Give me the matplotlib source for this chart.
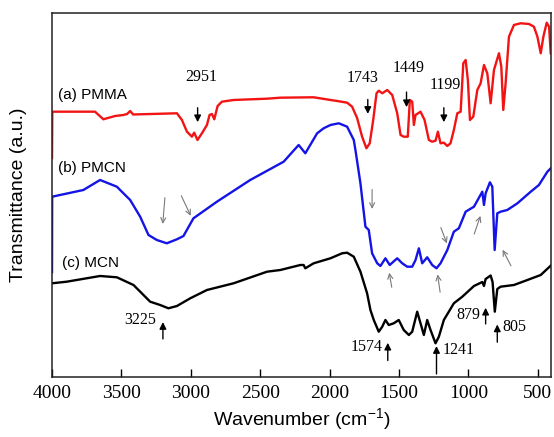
import matplotlib
matplotlib.use("Agg")
import matplotlib.pyplot as plt

# FTIR spectra, transmittance in arbitrary units (offset traces)
pmma_wn = [4000, 3998, 3690, 3630, 3545, 3486, 3459, 3437, 3416, 3100, 3064, 3028, 2992, 2976, 2952, 2920,
           2884, 2865, 2848, 2831, 2807, 2776, 2692, 2451, 2355, 2115, 1994, 1946, 1874, 1838, 1802, 1766,
           1735, 1711, 1686, 1662, 1646, 1621, 1585, 1549, 1513, 1489, 1466, 1437, 1422, 1405, 1393, 1381,
           1345, 1316, 1285, 1261, 1237, 1220, 1201, 1177, 1152, 1129, 1105, 1080, 1056, 1037, 1020, 1004,
           989, 965, 936, 912, 888, 864, 840, 816, 780, 763, 749, 732, 708, 672, 624, 564, 528, 503, 479,
           460, 436, 419, 407]
pmma_t = [219, 265.3, 265.3, 257.7, 261, 262, 263, 266, 262.5, 263.7, 257, 245.3, 240.3, 244.3, 237, 243.7,
          252, 262, 263, 257.7, 271, 275.3, 277, 278.3, 279.3, 279.7, 277, 276, 274.3, 270.3, 259, 240.3,
          228.7, 233.7, 257, 283.7, 286.3, 283.7, 287, 282, 263.7, 242, 240.3, 240.3, 277, 275.3, 252, 262,
          265.3, 257, 237, 235.3, 236.3, 245.3, 233.7, 234.3, 231, 233.7, 247, 263.7, 265.3, 313.7, 317, 297,
          257, 260.3, 287, 293.7, 312, 303.7, 273.7, 307, 323.7, 310.3, 267, 293.7, 340.3, 352, 353.7, 353,
          350.3, 340.3, 323.7, 340.3, 354.3, 350.3, 323.7]

pmcn_wn = [4000, 3999, 3774, 3654, 3533, 3437, 3365, 3305, 3245, 3173, 3100, 3053, 2981, 2812, 2572, 2331,
           2223, 2175, 2090, 2043, 1994, 1934, 1874, 1826, 1814, 1778, 1742, 1718, 1694, 1657, 1634, 1598,
           1567, 1513, 1477, 1441, 1405, 1381, 1357, 1333, 1297, 1261, 1230, 1201, 1152, 1105, 1069, 1020,
           960, 900, 888, 876, 845, 828, 811, 792, 768, 720, 647, 551, 492, 431, 395]
pmcn_t = [105, 180.3, 187, 197, 190.3, 177, 160.3, 142, 137, 133.7, 137.7, 141, 158.7, 175.3, 197, 215.3,
          232, 223.7, 243.7, 248.7, 252, 253.7, 250.3, 237, 227, 193.7, 150.3, 147, 123.7, 113.7, 111, 118.7,
          112, 118.7, 113.7, 110.3, 110.3, 117, 128.7, 113.7, 119.7, 112, 108.7, 113.7, 127, 145.3, 148.7, 165.3,
          170.3, 185.3, 172, 183.7, 194.7, 190.3, 127, 163.7, 165.3, 167, 173.7, 185.3, 192, 205.3, 210.3]

mcn_wn = [4000, 3894, 3654, 3533, 3413, 3341, 3293, 3221, 3161, 3100, 3004, 2884, 2692, 2451, 2355, 2211,
          2187, 2175, 2115, 1994, 1910, 1874, 1826, 1778, 1730, 1706, 1682, 1646, 1621, 1598, 1574, 1538,
          1502, 1466, 1429, 1405, 1369, 1345, 1321, 1297, 1273, 1237, 1213, 1177, 1105, 1044, 960, 900, 888,
          876, 840, 826, 810, 792, 768, 672, 575, 479, 402]
mcn_t = [93.7, 95.3, 101, 99.7, 92, 82, 75.3, 72, 68.7, 71, 78.7, 87, 93.7, 105.3, 107, 112,
         112, 108.7, 113.7, 118.7, 123.7, 124.3, 120.3, 105.3, 83.7, 67, 57, 45.3, 50.3, 57, 52, 53.7,
         57, 47, 42, 45.3, 65.3, 53.7, 42, 57, 47, 33.7, 40.3, 57, 73.7, 80.3, 91, 95, 91,
         98, 101.5, 95, 65.3, 88, 90.3, 92, 97, 102, 112]

# peak labels: text, text position, arrow x, arrow tail y, arrow head y
peak_labels = [("2951", 2925, 300, 2951, 272, 252, "center"),
               ("1743", 1766, 299, 1725, 280.3, 260.3, "center"),
               ("1449", 1429, 308.7, 1446, 287.7, 267, "center"),
               ("1199", 1165, 292, 1177, 272, 252, "center"),
               ("3225", 3365, 57, 3201, 35.3, 57.7, "center"),
               ("1574", 1730, 30.3, 1581, 13.7, 37, "center"),
               ("1241", 1189, 27, 1230, 0.3, 33.7, "left"),
               ("879", 997, 62, 876, 50.3, 72, "center"),
               ("805", 756, 50.3, 792, 32, 55.3, "left")]

# gray arrows on PMCN: tail (wn, t) -> head (wn, t)
gray_arrows = [((3185, 182), (3204, 150.3)),
               ((3077, 183.7), (2992, 158.7)),
               ((1694, 190.3), (1694, 165.3)),
               ((1549, 87), (1574, 107)),
               ((1201, 82), (1225, 105.3)),
               ((1206, 152), (1148, 131)),
               ((965, 140.3), (907, 163.7)),
               ((684, 108.7), (763, 129.7))]

serif = "Liberation Serif"
sans = "Liberation Sans"
plt.rcParams["mathtext.fontset"] = "custom"
plt.rcParams["mathtext.rm"] = sans
plt.rcParams["mathtext.default"] = "rm"

fig = plt.figure(figsize=(5.54, 4.37), dpi=100)
ax = fig.add_axes([0.0939, 0.1373, 0.9007, 0.833])

ax.plot(pmma_wn, pmma_t, color="#f21414", lw=1.7)
ax.plot(pmcn_wn, pmcn_t, color="#1414e6", lw=1.7)
ax.plot(mcn_wn, mcn_t, color="black", lw=1.7)

ax.set_xlim(4000, 405)
ax.set_ylim(0, 364)
ax.set_yticks([])
ax.set_xticks([4000, 3500, 3000, 2500, 2000, 1500, 1000, 500])
ax.tick_params(axis="x", direction="in", length=6, width=1, labelsize=14, pad=6)
for lab in ax.get_xticklabels():
    lab.set_fontfamily(serif)
for sp in ax.spines.values():
    sp.set_linewidth(1.1)
    sp.set_color("#222222")

ax.set_xlabel("Wavenumber (cm$^{-1}$)", fontsize=14, fontfamily=sans, labelpad=3)
ax.set_ylabel("Transmittance (a.u.)", fontsize=14, fontfamily=sans, labelpad=18)

ax.text(3957, 282, "(a) PMMA", fontsize=11, fontfamily=sans, va="center")
ax.text(3957, 209, "(b) PMCN", fontsize=11, fontfamily=sans, va="center")
ax.text(3930, 114, "(c) MCN", fontsize=11, fontfamily=sans, va="center")

for txt, tx, ty, axx, y0, y1, ha in peak_labels:
    ax.text(tx, ty, txt, fontsize=11.5, fontfamily=serif, ha=ha, va="center")
    ax.annotate("", xy=(axx, y1), xytext=(axx, y0),
                arrowprops=dict(arrowstyle="-|>", color="black", lw=1.0, mutation_scale=10))

for (t0, t1) in gray_arrows:
    ax.annotate("", xy=t1, xytext=t0,
                arrowprops=dict(arrowstyle="->", color="#7a7a7a", lw=0.8, mutation_scale=9))

fig.savefig("out.png", dpi=100)
